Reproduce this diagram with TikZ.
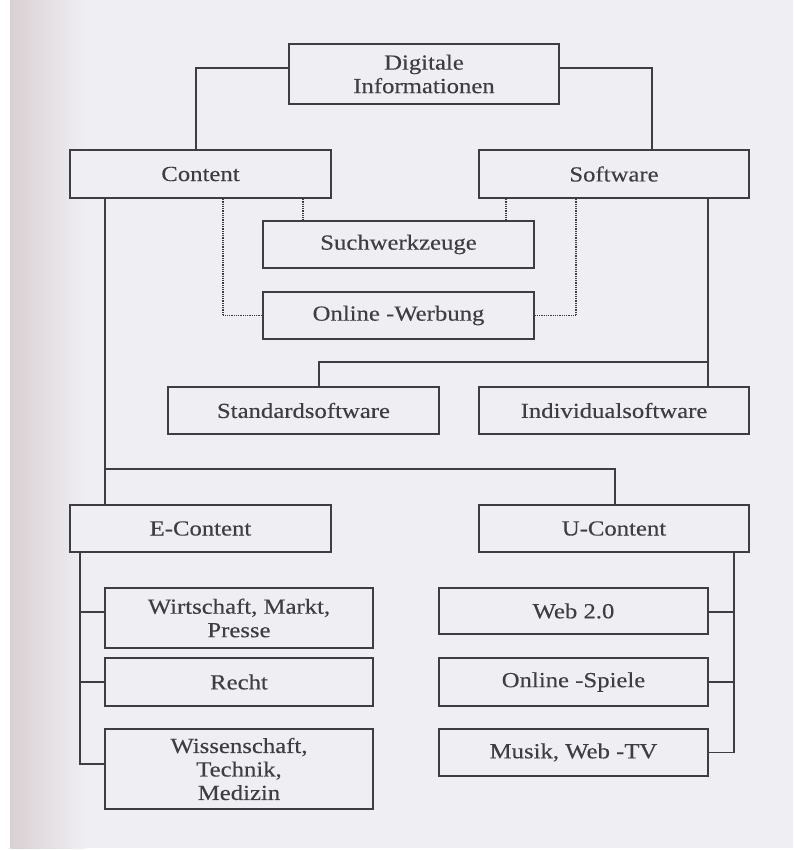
\documentclass[tikz,border=0pt]{standalone}
\usepackage{fontspec}
\setmainfont{Liberation Serif}[FakeStretch=1.15,FakeBold=0.25]
\usetikzlibrary{calc}
\definecolor{page}{HTML}{EFEEF3}
\definecolor{edge}{HTML}{D9D0D3}
\definecolor{ink}{HTML}{3E3E40}
\tikzset{
  box/.style={draw=ink, line width=1.6pt, fill=page, text=ink, align=center,
    inner sep=0pt, font=\fontsize{21.5}{23.5}\selectfont},
  link/.style={draw=ink, line width=1.6pt},
  dotlink/.style={draw=ink, line width=1.3pt, dash pattern=on 1pt off 0.8pt},
}
\begin{document}
\begin{tikzpicture}[x=1pt,y=-1pt]
\useasboundingbox (0,0) rectangle (793,850);
\fill[white] (0,0) rectangle (793,850);
\fill[page] (10,0) rectangle (793,848);
\shade[left color=edge, right color=page] (10,0) rectangle (85,848);

% nodes
\node[box, minimum width=270pt, minimum height=60pt] (dig) at (424,74) {Digitale\\Informationen};
\node[box, minimum width=261pt, minimum height=48pt] (content) at (200.5,174) {Content};
\node[box, minimum width=270pt, minimum height=48pt] (software) at (614,174) {Software};
\node[box, minimum width=271pt, minimum height=47pt] (such) at (398.5,244.5) {Suchwerkzeuge};
\node[box, minimum width=271pt, minimum height=47pt] (werb) at (398.5,315.5) {Online -Werbung};
\node[box, minimum width=271pt, minimum height=47pt] (std) at (303.5,410.5) {Standardsoftware};
\node[box, minimum width=270pt, minimum height=47pt] (indiv) at (614,410.5) {Individualsoftware};
\node[box, minimum width=261pt, minimum height=47pt] (econ) at (200.5,528.5) {E-Content};
\node[box, minimum width=270pt, minimum height=47pt] (ucon) at (614,528.5) {U-Content};
\node[box, minimum width=268pt, minimum height=60pt] (wirt) at (239,618) {Wirtschaft, Markt,\\Presse};
\node[box, minimum width=268pt, minimum height=48pt] (recht) at (239,682) {Recht};
\node[box, minimum width=268pt, minimum height=80pt] (wiss) at (239,769) {Wissenschaft,\\Technik,\\Medizin};
\node[box, minimum width=269pt, minimum height=46pt] (web) at (573.5,611) {Web 2.0};
\node[box, minimum width=269pt, minimum height=48pt] (spiele) at (573.5,682) {Online -Spiele};
\node[box, minimum width=269pt, minimum height=47pt] (musik) at (573.5,752.5) {Musik, Web -TV};

% top level
\draw[link] ([yshift=6pt]dig.west) -| ([xshift=-4.5pt]content.north);
\draw[link] ([yshift=6pt]dig.east) -| ([xshift=38pt]software.north);

% dotted links
\draw[dotlink] ([xshift=102.5pt]content.south) -- ([xshift=102.5pt]content.south |- such.north);
\draw[dotlink] ([xshift=-108pt]software.south) -- ([xshift=-108pt]software.south |- such.north);
\draw[dotlink] ([xshift=22.5pt]content.south) |- (werb.west);
\draw[dotlink] ([xshift=-38pt]software.south) |- (werb.east);

% software branch
\draw[link] ([xshift=94pt]software.south) -- ([xshift=94pt]software.south |- indiv.north);
\draw[link] ([xshift=15.5pt]std.north) -- ++(0pt,24pt) -| ([xshift=94pt]software.south);

% content branch
\draw[link] ([xshift=-95.5pt]content.south) -- ([xshift=-95.5pt]content.south |- econ.north);
\draw[link] ([xshift=-95.5pt]econ.north) ++(0pt,35pt) -| ([xshift=1pt]ucon.north);

% E-Content children
\draw[link] ([xshift=-120.5pt]econ.south) |- ([yshift=5pt]wiss.west);
\draw[link] ([yshift=6pt]wirt.west) -- ++(-25pt,0pt);
\draw[link] (recht.west) -- ++(-25pt,0pt);

% U-Content children
\draw[link] ([xshift=120pt]ucon.south) |- (musik.east);
\draw[link] ([yshift=-1pt]web.east) -- ++(26pt,0pt);
\draw[link] (spiele.east) -- ++(26pt,0pt);
\end{tikzpicture}
\end{document}
